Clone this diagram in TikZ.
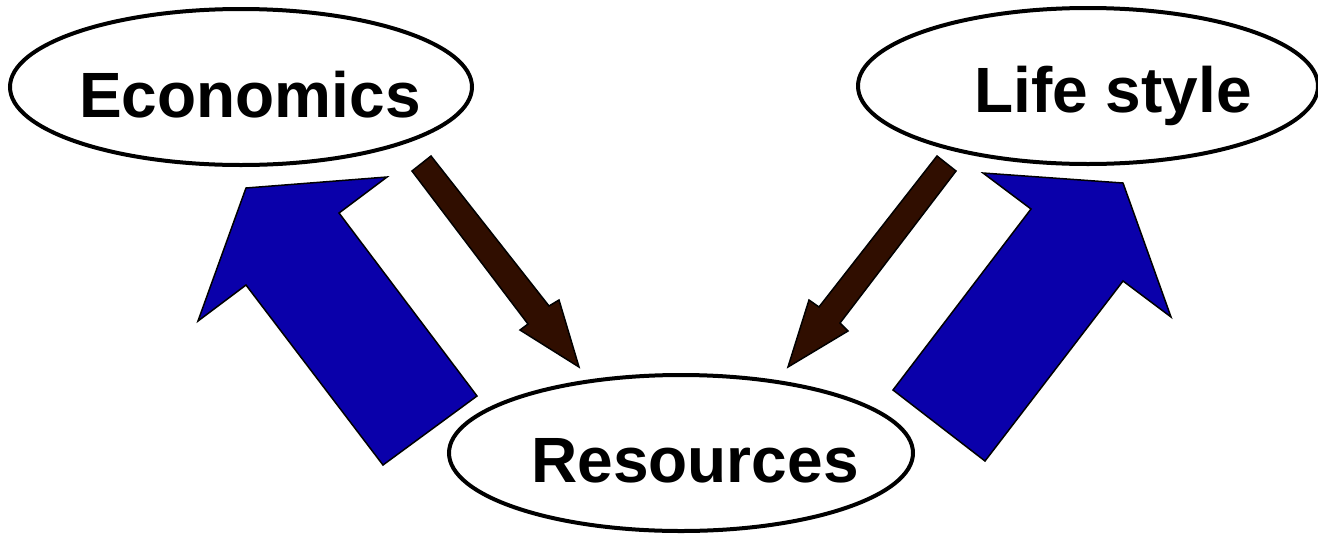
\documentclass[tikz,border=0pt]{standalone}
\usepackage{fontspec}
\setmainfont{Liberation Sans}
\usetikzlibrary{shapes.geometric}
\definecolor{arrowblue}{RGB}{10,0,170}
\definecolor{arrowbrown}{RGB}{48,14,0}
\tikzset{
  bubble/.style={ellipse, draw=black, fill=white, line width=4pt, inner sep=0pt},
  label text/.style={anchor=base, inner sep=0pt, font=\fontsize{64}{64}\selectfont\bfseries},
  bigarrow/.style={fill=arrowblue, draw=black, line width=1.5pt, line join=miter},
  thinarrow/.style={fill=arrowbrown, draw=black, line width=1.5pt, line join=miter}
}
\begin{document}
\begin{tikzpicture}[x=1pt,y=-1pt]
\useasboundingbox (0,0) rectangle (1318,539);
% blue arrows
\draw[bigarrow] (383,465) -- (246,285) -- (198,321) -- (246,188) -- (387,177) -- (339,213) -- (477,396) -- cycle;
\draw[bigarrow] (893,390) -- (1031,209) -- (983,173) -- (1123,183) -- (1171,317) -- (1123,281) -- (985,461) -- cycle;
% brown arrows
\draw[thinarrow] (412,171) -- (431,156) -- (549,306) -- (559,300) -- (579,367) -- (520,330) -- (528,324) -- cycle;
\draw[thinarrow] (956,171) -- (937,156) -- (819,307) -- (809,300) -- (788,367) -- (848,331) -- (840,323) -- cycle;
% ellipses
\node[bubble, minimum width=462pt, minimum height=156pt] (econ) at (241,87) {};
\node[bubble, minimum width=460pt, minimum height=156pt] (life) at (1088,86) {};
\node[bubble, minimum width=464pt, minimum height=156pt] (res) at (681,453) {};
% texts
\node[label text] (econt) at (250,117) {Economics};
\node[label text] (lifet) at (1113,112) {Life style};
\node[label text] (rest) at (695,482) {Resources};
\end{tikzpicture}
\end{document}
